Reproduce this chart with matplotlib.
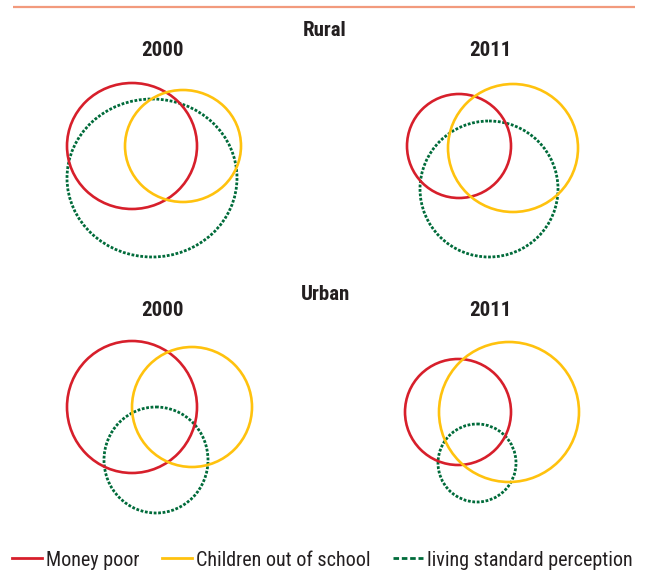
import matplotlib
matplotlib.use("Agg")
import matplotlib.pyplot as plt
from matplotlib.patches import Ellipse
from matplotlib.lines import Line2D

plt.rcParams['font.family'] = ['Roboto Condensed', 'DejaVu Sans']

# Venn-style circles: (centre x, centre y, radius x, radius y)
panel_groups = ['Rural', 'Urban']
panel_years = ['2000', '2011']
money_poor = [(132, 146, 65, 63), (459, 146, 52, 52),
              (132, 407, 65, 66), (458, 412, 53, 53)]
out_of_school = [(183, 146, 58, 56), (513, 148, 65, 64),
                 (192, 407, 60, 60), (509, 412, 70, 70)]
living_standard = [(152, 178, 85, 79), (489, 189, 69, 68),
                   (156, 460, 52, 53), (477, 463, 39, 39)]

series_names = ['Money poor', 'Children out of school', 'living standard perception']
red = '#d71f2b'
yellow = '#ffc20e'
green = '#006b3a'
ink = '#231f20'
dots = (0, (1.0, 0.6))

fig = plt.figure(figsize=(6.45, 5.74), dpi=100)
ax = fig.add_axes([0, 0, 1, 1])
ax.set_xlim(0, 645)
ax.set_ylim(574, 0)
ax.axis('off')

# top rule
ax.plot([13, 635], [7, 7], color='#f29a7d', lw=1.6, solid_capstyle='butt')

for m, s, l in zip(money_poor, out_of_school, living_standard):
    ax.add_patch(Ellipse((l[0], l[1]), 2 * l[2], 2 * l[3], fill=False,
                         ec=green, lw=2.0, ls=dots))
    ax.add_patch(Ellipse((m[0], m[1]), 2 * m[2], 2 * m[3], fill=False,
                         ec=red, lw=1.9))
    ax.add_patch(Ellipse((s[0], s[1]), 2 * s[2], 2 * s[3], fill=False,
                         ec=yellow, lw=1.9))

# headings
for g, gy in zip(panel_groups, [30, 294]):
    ax.text(325, gy, g, ha='center', va='center', fontsize=15,
            fontweight='semibold', color=ink)
for gy in [50, 310]:
    for yr, x in zip(panel_years, [163, 490]):
        ax.text(x, gy, yr, ha='center', va='center', fontsize=15,
                fontweight='semibold', color=ink)

# legend
handles = [Line2D([], [], color=red, lw=2.0),
           Line2D([], [], color=yellow, lw=2.0),
           Line2D([], [], color=green, lw=2.0, ls=(0, (2, 1)))]
fig.legend(handles, series_names, loc='center', bbox_to_anchor=(0.5, 1 - 560 / 574),
           ncol=3, frameon=False, fontsize=14.5, handlelength=1.5, handletextpad=0.2,
           columnspacing=1.1, labelcolor=ink, borderaxespad=0, borderpad=0)

fig.savefig('out.png', dpi=100)
